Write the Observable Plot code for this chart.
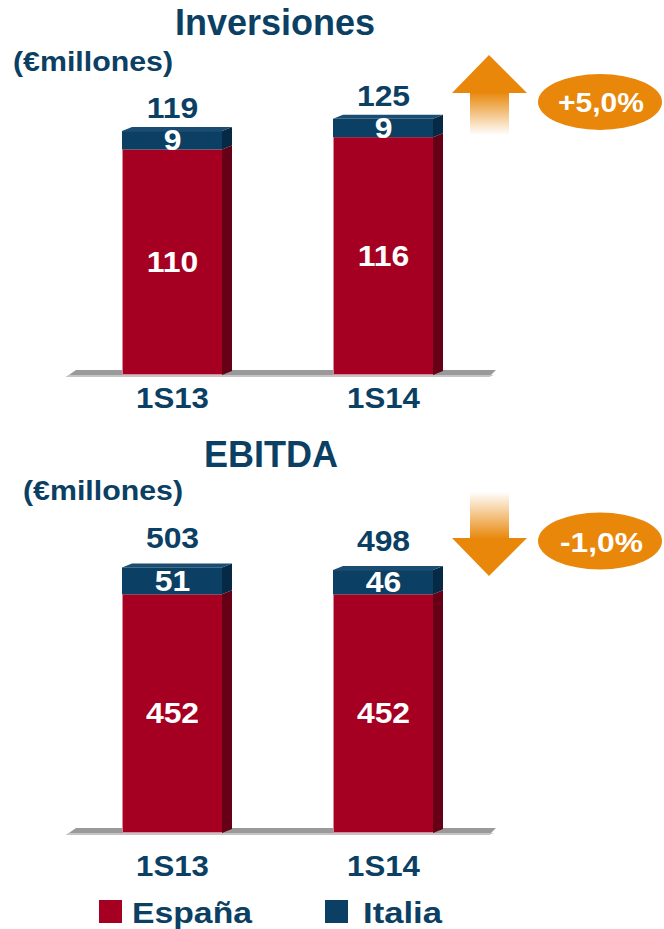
<!DOCTYPE html>
<html><head><meta charset="utf-8">
<script src="https://cdn.jsdelivr.net/npm/d3@7"></script>
<script src="https://cdn.jsdelivr.net/npm/@observablehq/plot@0.6"></script>
<style>
body{margin:0;background:#fff;}
#wrap{position:relative;width:664px;height:929px;overflow:hidden;background:#fff;font-family:"Liberation Sans",Arial,sans-serif;}
#wrap > svg{position:absolute;left:0;}
</style></head><body><div id="wrap"></div>
<script>
// ---- data ----
const categories = ["1S13", "1S14"];
const series = ["España", "Italia"];
const invEspana = [110, 116];
const invItalia = [9, 9];
const invTotal = [119, 125];
const ebitdaEspana = [452, 452];
const ebitdaItalia = [51, 46];
const ebitdaTotal = [503, 498];
const changes = ["+5,0%", "-1,0%"];
const titles = ["Inversiones", "EBITDA"];
const unitLabel = "(€millones)";

const FONT = '"Liberation Sans", Arial, sans-serif';
const NAVY = "#0b3f63", RED = "#a50021", RED_SIDE = "#660017", NAVY_SIDE = "#062a45", NAVY_TOP = "#1b4d72";
const ORANGE = "#e8870a";
const wrap = document.getElementById("wrap");

function panel({espana, italia, total, top, height, base, pxPerUnit, totalDy, catDy}) {
  const rows = categories.flatMap((c, i) => [
    {cat: c, serie: series[0], value: espana[i]},
    {cat: c, serie: series[1], value: italia[i]}
  ]);
  const totals = categories.map((c, i) => ({cat: c, total: total[i]}));
  const plot = Plot.plot({
    width: 664, height, margin: 0,
    x: {domain: categories, range: [10, 545], padding: 0.524, axis: null},
    y: {domain: [0, 100], range: [base, base - 100 * pxPerUnit], axis: null},
    color: {domain: series, range: [RED, NAVY]},
    style: {fontFamily: FONT, background: "transparent", overflow: "visible"},
    marks: [
      Plot.barY(rows, {x: "cat", y: "value", fill: "serie"}),
      Plot.text(rows, Plot.stackY({x: "cat", y: "value", z: "serie", text: "value", fill: "white", fontSize: 29, fontWeight: "bold"})),
      Plot.text(totals, {x: "cat", y: "total", text: "total", dy: totalDy, fill: NAVY, fontSize: 29, fontWeight: "bold"}),
      Plot.text(categories, {x: d => d, y: () => 0, text: d => d, dy: catDy, fill: NAVY, fontSize: 30, fontWeight: "bold"})
    ]
  });
  plot.style.top = top + "px";
  // widen glyphs slightly to match the reference typeface
  plot.querySelectorAll('g[aria-label="text"]').forEach((g, k) => {
    const s = k < 2 ? 1.1 : 1.04;
    g.querySelectorAll("text").forEach(t => {
      const tr = t.getAttribute("transform") || "";
      t.setAttribute("transform", tr + ` scale(${s},1)`);
    });
  });
  const sx = plot.scale("x"), sy = plot.scale("y");
  const X = v => sx.apply(v), bw = sx.bandwidth, Y = v => sy.apply(v);
  const dx = 10, dz = 4;
  const y0 = Y(0);
  // floor
  const floor = d3.create("svg:g");
  const xl = X(categories[0]) - 56, xr = X(categories[categories.length - 1]) + bw + 63;
  floor.append("polygon").attr("points", [[xl, y0 + 2], [xl + 10, y0 - 5], [xr, y0 - 5], [xr - 7, y0 + 2]].join(" ")).attr("fill", "#9a9a9a");
  floor.append("polygon").attr("points", [[xl, y0 + 2], [xl + 3, y0], [xr - 2, y0], [xr - 7, y0 + 2]].join(" ")).attr("fill", "#c4c4c4");
  // 3D faces
  const faces = d3.create("svg:g");
  categories.forEach((c, i) => {
    const L = X(c), R = L + bw;
    const segs = [[0, espana[i], RED_SIDE], [espana[i], espana[i] + italia[i], NAVY_SIDE]];
    segs.forEach(([a, b, col]) => {
      faces.append("polygon").attr("points", [[R, Y(b)], [R + dx, Y(b) - dz], [R + dx, Y(a) - dz], [R, Y(a)]].join(" ")).attr("fill", col);
    });
    const t = Y(espana[i] + italia[i]);
    faces.append("polygon").attr("points", [[L, t], [L + dx, t - dz], [R + dx, t - dz], [R, t]].join(" ")).attr("fill", NAVY_TOP);
    faces.append("line").attr("x1", L + 0.5).attr("x2", L + 0.5).attr("y1", Y(espana[i])).attr("y2", y0).attr("stroke", "#d98a9a").attr("stroke-width", 1);
    faces.append("line").attr("x1", L).attr("x2", R).attr("y1", y0 - 0.5).attr("y2", y0 - 0.5).attr("stroke", "#d98a9a").attr("stroke-width", 1);
  });
  const barG = plot.querySelector('g[aria-label="bar"]');
  barG.before(floor.node());
  barG.after(faces.node());
  wrap.appendChild(plot);
}

panel({espana: invEspana, italia: invItalia, total: invTotal, top: 0, height: 425, base: 375, pxPerUnit: 2.05, totalDy: -23, catDy: 23});
panel({espana: ebitdaEspana, italia: ebitdaItalia, total: ebitdaTotal, top: 430, height: 450, base: 403, pxPerUnit: 0.528, totalDy: -29, catDy: 33});

// ---- overlay: titles, arrows, badges, legend ----
const ov = d3.create("svg").attr("width", 664).attr("height", 929).style("top", "0px").style("font-family", FONT).style("font-weight", "bold");
const defs = ov.append("defs");
const gUp = defs.append("linearGradient").attr("id", "gup").attr("x1", 0).attr("y1", 0).attr("x2", 0).attr("y2", 1);
gUp.append("stop").attr("offset", 0).attr("stop-color", ORANGE);
gUp.append("stop").attr("offset", 1).attr("stop-color", ORANGE).attr("stop-opacity", 0);
const gDn = defs.append("linearGradient").attr("id", "gdn").attr("x1", 0).attr("y1", 1).attr("x2", 0).attr("y2", 0);
gDn.append("stop").attr("offset", 0).attr("stop-color", ORANGE);
gDn.append("stop").attr("offset", 1).attr("stop-color", ORANGE).attr("stop-opacity", 0);

const stretch = (sel, len) => sel.attr("textLength", len).attr("lengthAdjust", "spacingAndGlyphs");

ov.append("text").attr("x", 275).attr("y", 35).attr("text-anchor", "middle").attr("font-size", 36).attr("fill", NAVY).text(titles[0]);
stretch(ov.append("text").attr("x", 13).attr("y", 71).attr("font-size", 28).attr("fill", NAVY), 160).text(unitLabel);
ov.append("text").attr("x", 271).attr("y", 467).attr("text-anchor", "middle").attr("font-size", 36).attr("fill", NAVY).text(titles[1]);
stretch(ov.append("text").attr("x", 23).attr("y", 500).attr("font-size", 28).attr("fill", NAVY), 160).text(unitLabel);

// up arrow
ov.append("rect").attr("x", 470).attr("y", 92).attr("width", 39).attr("height", 43).attr("fill", "url(#gup)");
ov.append("polygon").attr("points", "489,55 527,93 452,93").attr("fill", ORANGE);
ov.append("ellipse").attr("cx", 600).attr("cy", 102).attr("rx", 62).attr("ry", 28).attr("fill", ORANGE);
stretch(ov.append("text").attr("x", 558).attr("y", 112).attr("font-size", 28).attr("fill", "white"), 86).text(changes[0]);
// down arrow
ov.append("rect").attr("x", 470).attr("y", 492).attr("width", 39).attr("height", 47).attr("fill", "url(#gdn)");
ov.append("polygon").attr("points", "452,538 527,538 489,576").attr("fill", ORANGE);
ov.append("ellipse").attr("cx", 600).attr("cy", 541).attr("rx", 62).attr("ry", 28.5).attr("fill", ORANGE);
stretch(ov.append("text").attr("x", 560).attr("y", 552).attr("font-size", 28).attr("fill", "white"), 83).text(changes[1]);

// legend
const leg = [[99, 132, RED, series[0], 120], [325, 363, NAVY, series[1], 79]];
leg.forEach(([sxp, tx, col, name, len]) => {
  ov.append("rect").attr("x", sxp).attr("y", 900).attr("width", 23).attr("height", 23).attr("fill", col);
  stretch(ov.append("text").attr("x", tx).attr("y", 923).attr("font-size", 30).attr("fill", NAVY), len).text(name);
});
wrap.appendChild(ov.node());
</script>
</body></html>
